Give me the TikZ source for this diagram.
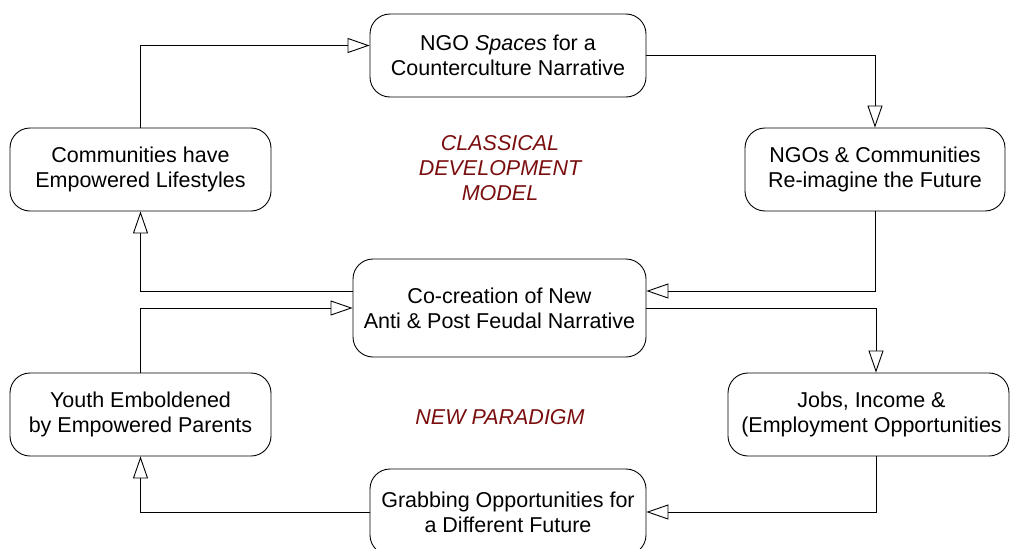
\documentclass[tikz,border=0pt]{standalone}
\usepackage{fontspec}
\setmainfont{Liberation Sans}
\usetikzlibrary{arrows.meta}
\definecolor{darkred}{RGB}{122,14,14}
\begin{document}
\begin{tikzpicture}[x=1pt,y=-1pt,
  box/.style={draw, line width=0.9pt, rounded corners=20pt, align=center,
    inner sep=0pt, font=\fontsize{21.5}{25}\selectfont},
  conn/.style={draw, line width=0.9pt, -{Triangle[open, length=22pt, width=15pt]}},
  lbl/.style={text=darkred, align=center, font=\fontsize{21.5}{25}\selectfont\itshape}]
\useasboundingbox (0,0) rectangle (1010,549);
\node[box, minimum width=276pt, minimum height=83pt] (ngo) at (508,55.5) {NGO \emph{Spaces} for a\\Counterculture Narrative};
\node[box, minimum width=261pt, minimum height=83pt] (comm) at (140.5,169.5) {Communities have\\Empowered Lifestyles};
\node[box, minimum width=260pt, minimum height=83pt] (ngoc) at (875,169.5) {NGOs \& Communities\\Re-imagine the Future};
\node[box, minimum width=293pt, minimum height=98pt] (cocr) at (499.5,308) {Co-creation of New\\Anti \& Post Feudal Narrative};
\node[box, minimum width=261pt, minimum height=83pt] (youth) at (140.5,414.5) {Youth Emboldened\\by Empowered Parents};
\node[box, minimum width=281pt, minimum height=83pt] (jobs) at (868.5,414.5) {\hspace*{6pt}Jobs, Income \&\\\hspace*{6pt}(Employment Opportunities};
\node[box, minimum width=276pt, minimum height=86pt] (grab) at (508,512) {Grabbing Opportunities for\\a Different Future};
\node[lbl] (classical) at (500,168) {CLASSICAL\\DEVELOPMENT\\MODEL};
\node[lbl] (newp) at (500,417) {NEW PARADIGM};
\draw[conn] (comm.north) |- ([yshift=10pt]ngo.west);
\draw[conn] (ngo.east) -| (ngoc.north);
\draw[conn] (ngoc.south) |- ([yshift=17pt]cocr.east);
\draw[conn] ([yshift=17pt]cocr.west) -| (comm.south);
\draw[conn] (youth.north) |- (cocr.west);
\draw[conn] (cocr.east) -| ([xshift=7.5pt]jobs.north);
\draw[conn] ([xshift=7.5pt]jobs.south) |- (grab.east);
\draw[conn] (grab.west) -| (youth.south);
\end{tikzpicture}
\end{document}
